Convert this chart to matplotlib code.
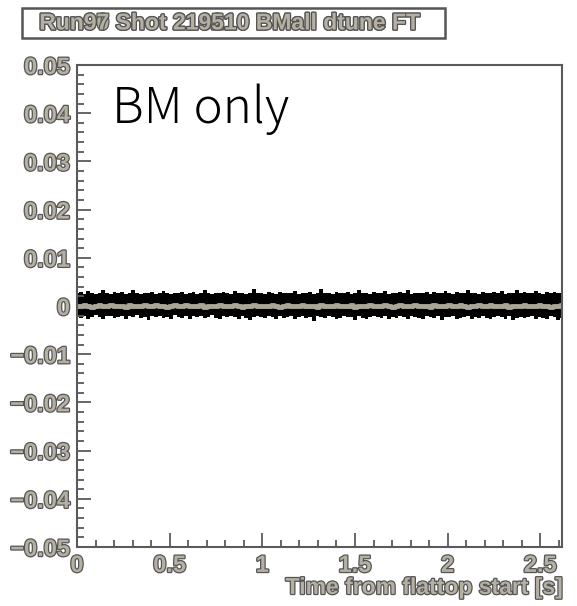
import numpy as np
import matplotlib
matplotlib.use("Agg")
import matplotlib.pyplot as plt
import matplotlib.patheffects as pe
from matplotlib.ticker import MultipleLocator

# noise band envelope, in units of 1e-3
upper = [2.6,2.9,2.5,3.1,2.7,2.4,2.8,3.3,2.6,2.5,2.9,2.7,3.0,2.4,2.6,3.4,2.7,2.5,2.8,2.6,
         2.9,2.5,2.7,3.2,2.6,2.4,2.8,2.7,3.0,2.5,2.6,2.9,2.4,2.7,3.3,2.6,2.5,2.8,2.6,2.9,
         2.7,2.4,3.1,2.6,2.8,2.5,2.7,3.5,2.6,2.8,2.5,2.9,2.6,2.4,3.0,2.7,2.6,2.8,3.2,2.5,
         2.7,2.6,2.9,2.4,2.8,3.6,2.6,2.7,2.5,3.0,2.8,2.6,2.9,2.5,2.7,3.3,2.6,2.8,2.4,2.9,
         2.7,2.6,3.1,2.5,2.8,2.6,2.9,2.7,3.4,2.5,2.6,2.8,2.7,3.0,2.5,2.9,2.6,2.8,3.2,2.7,
         2.5,2.9,2.6,2.8,3.3,2.6,2.7,2.5,3.0,2.8,2.6,2.9,2.7,3.1,2.5,2.8,2.6,3.4,2.7,2.9,
         2.6,2.8,3.2,2.7,2.5,2.9,2.8,3.0,2.6,2.8]
lower = [-2.1,-2.4,-2.0,-2.6,-2.2,-1.9,-2.3,-2.8,-2.1,-2.0,-2.5,-2.2,-2.0,-2.7,-2.1,-2.3,-1.9,-2.4,-2.2,-3.0,
         -2.1,-2.3,-2.0,-2.5,-2.2,-2.6,-1.9,-2.2,-2.4,-2.1,-2.8,-2.0,-2.3,-2.1,-2.5,-2.2,-1.9,-2.4,-2.7,-2.1,
         -2.3,-2.0,-2.2,-2.6,-2.1,-2.4,-2.9,-2.2,-2.0,-2.3,-2.5,-2.1,-2.2,-2.8,-2.0,-2.4,-2.2,-2.1,-2.6,-2.3,
         -2.0,-2.4,-2.2,-3.1,-2.1,-2.3,-2.5,-2.0,-2.2,-2.7,-2.4,-2.1,-2.3,-2.2,-2.9,-2.0,-2.4,-2.6,-2.2,-2.1,
         -2.3,-2.5,-2.0,-2.8,-2.2,-2.4,-2.1,-2.3,-2.6,-2.0,-2.2,-2.5,-2.7,-2.1,-2.3,-2.4,-2.0,-2.9,-2.2,-2.3,
         -2.1,-2.6,-2.4,-2.2,-2.0,-2.8,-2.3,-2.5,-2.1,-2.4,-2.7,-2.2,-2.0,-2.3,-2.6,-2.1,-2.9,-2.4,-2.2,-2.5,
         -2.3,-2.1,-2.7,-2.2,-2.4,-2.6,-2.0,-2.3,-3.0,-2.4]
mean_line = [0.1,-0.1,0.2,0.0,-0.2,0.1,0.3,-0.1,0.0,0.2,-0.1,0.1,0.0,-0.2,0.2,0.1,-0.1,0.0,0.3,-0.1,
             0.0,0.2,-0.1,0.1,-0.2,0.0,0.2,0.1,-0.1,0.3,0.0,-0.1,0.1,0.2,-0.2,0.0,0.1,-0.1,0.2,0.0,
             -0.1,0.1,0.3,0.0,-0.2,0.1,0.0,0.2,-0.1,0.1,0.0,-0.1,0.2,0.1,-0.2,0.0,0.3,0.1,-0.1,0.0,
             0.2,-0.1,0.1,0.0,-0.2,0.2,0.1,-0.1,0.0,0.3,-0.1,0.1,0.0,0.2,-0.2,0.1,0.0,-0.1,0.2,0.1,
             -0.1,0.0,0.2,0.1,-0.2,0.0,0.3,-0.1,0.1,0.0,0.2,-0.1,0.0,0.1,-0.2,0.2,0.0,0.1,-0.1,0.3,
             0.0,-0.1,0.2,0.1,-0.2,0.0,0.1,0.2,-0.1,0.0,0.3,0.1,-0.1,0.0,0.2,-0.2,0.1,0.0,-0.1,0.2,
             0.1,0.0,-0.1,0.2,0.0,0.1,-0.2,0.1,0.0,0.2]
t_end = 2.617
title_a = "Run90 Shot 216210 BMall dtune FT"
title_b = "Run97 Shot 219510 BMall dtune FT"
xlabel = "Time from flattop start [s]"
note = "BM only"

t = np.linspace(0, t_end, len(upper))
up = np.array(upper) * 1e-3
lo = np.array(lower) * 1e-3
mid = np.array(mean_line) * 1e-3

fig = plt.figure(figsize=(5.77, 6.06), dpi=100)
ax = fig.add_axes([0.1334, 0.0974, 0.8406, 0.7953])

ax.fill_between(t, lo, up, step='mid', color='black', lw=0)
ax.step(t, mid, where='mid', color='#a9a598', lw=3.5)

ax.set_xlim(0, t_end)
ax.set_ylim(-0.05, 0.05)

frame = '#5a5a5a'
for s in ax.spines.values():
    s.set_color(frame)
    s.set_linewidth(1.5)

ax.xaxis.set_major_locator(MultipleLocator(0.5))
ax.xaxis.set_minor_locator(MultipleLocator(0.1))
ax.yaxis.set_major_locator(MultipleLocator(0.01))
ax.yaxis.set_minor_locator(MultipleLocator(0.002))
ax.tick_params(which='both', direction='in', color=frame, width=1.3, top=False, right=False)
ax.tick_params(which='major', length=10, pad=5)
ax.tick_params(which='minor', length=5)

fx = [pe.Stroke(linewidth=1.8, foreground='#555555'), pe.Normal()]
ax.set_xticks([0, 0.5, 1, 1.5, 2, 2.5])
ax.set_xticklabels(['0', '0.5', '1', '1.5', '2', '2.5'])
ax.set_yticks(np.arange(-0.05, 0.0501, 0.01))
ax.set_yticklabels(['\u22120.05', '\u22120.04', '\u22120.03', '\u22120.02', '\u22120.01', '0',
                    '0.01', '0.02', '0.03', '0.04', '0.05'])
for lab in ax.get_xticklabels() + ax.get_yticklabels():
    lab.set_fontfamily('Liberation Sans')
    lab.set_fontweight('bold')
    lab.set_fontsize(17)
    lab.set_color('#b5b0a2')
    lab.set_path_effects(fx)

ax.text(1.0, -0.06, xlabel, transform=ax.transAxes, ha='right', va='top',
        fontfamily='Liberation Sans', fontweight='bold', fontsize=16.5,
        color='#b5b0a2', path_effects=fx)

ax.text(0.072, 0.962, note, transform=ax.transAxes, ha='left', va='top',
        fontfamily=['Noto Sans CJK JP', 'DejaVu Sans'], fontweight='light',
        fontsize=35.5, color='black')

# title box
fig.patches.append(plt.Rectangle((22 / 577, 1 - 38 / 606), 423 / 577, 30 / 606,
                                 transform=fig.transFigure, fill=False,
                                 edgecolor='#555555', lw=1.8))
for s in (title_a, title_b):
    fig.text(229 / 577, 1 - 23 / 606, s, ha='center', va='center',
             fontfamily='Liberation Sans', fontweight='bold', fontsize=16.5,
             color='#b5b0a2', path_effects=fx)

fig.savefig('out.png', dpi=100)
